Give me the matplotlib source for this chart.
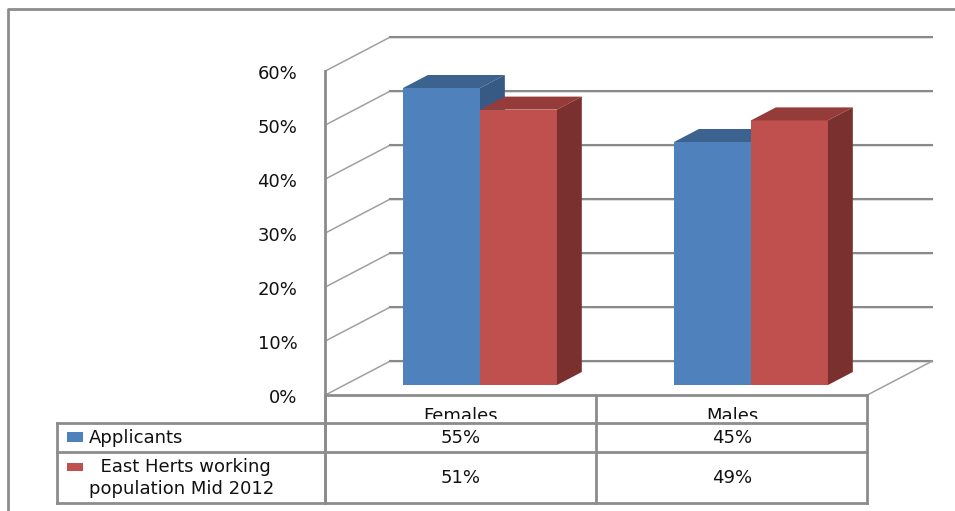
import matplotlib
matplotlib.use('Agg')
import matplotlib.pyplot as plt
from matplotlib.patches import Polygon, Rectangle

categories = ['Females', 'Males']
series_names = ['Applicants', '  East Herts working\npopulation Mid 2012']
applicants = [55, 45]
east_herts = [51, 49]
y_ticks = [0, 10, 20, 30, 40, 50, 60]

front_cols = ['#4F81BD', '#C0504D']
top_cols = ['#3C6290', '#953B39']
side_cols = ['#375A85', '#7A302F']
grid_col = '#8a8a8a'
line_col = '#8c8c8c'
txt_col = '#111111'
fs = 13

W, H = 955, 511
fig = plt.figure(figsize=(W / 100, H / 100), dpi=100)
ax = fig.add_axes([0, 0, 1, 1])

# data scale: one category = 271 px, 1% = 5.4 px, bar base at pixel (480, 385)
ux, uy = 271.0, 5.4
ax.set_xlim(-480 / ux, (W - 480) / ux)
ax.set_ylim(-(H - 385) / uy, 385 / uy)
ax.axis('off')

# depth of the 3d box, and where the bars sit inside it
DX, DY = 65 / ux, 34 / uy
zb, bd = 10 / 34, 13 / 34


def proj(x, y, z):
    return (x + (z - zb) * DX, y + (z - zb) * DY)


def pyd(p):
    # pixel row -> data y
    return (385 - p) / uy


def pxd(p):
    return (p - 480) / ux


# walls and gridlines
xl, xr = -0.5, len(categories) - 0.5
for t in y_ticks:
    a, b, c = proj(xl, t, 0), proj(xl, t, 1), proj(xr, t, 1)
    ax.plot([a[0], b[0]], [a[1], b[1]], color='#a0a0a0', lw=1.1, zorder=1)
    ax.plot([b[0], c[0]], [b[1] - 1.2 / uy, c[1] - 1.2 / uy], color='#dcdcdc', lw=1.2, zorder=1)
    ax.plot([b[0], c[0]], [b[1], c[1]], color=grid_col, lw=1.5, zorder=1)
    ax.text(a[0] - 28 / ux, a[1] - 3 / uy, f'{t}%', ha='right', va='center',
            fontsize=fs, color=txt_col)

f0, f1, f2 = proj(xl, 0, 0), proj(xr, 0, 0), proj(xr, 0, 1)
ax.plot([f1[0], f2[0]], [f1[1], f2[1]], color='#a0a0a0', lw=1.1, zorder=1)

# bars
width = 0.284
offsets = [-width / 2, width / 2]
for i, cat in enumerate(categories):
    for s, vals in enumerate([applicants, east_herts]):
        x0 = i + offsets[s] - width / 2
        x1 = x0 + width
        v = vals[i]
        ax.bar(x0, v, width=width, align='edge', color=front_cols[s], zorder=3 + s)
        top = [(x0, v), (x1, v), proj(x1, v, zb + bd), proj(x0, v, zb + bd)]
        side = [(x1, 0), (x1, v), proj(x1, v, zb + bd), proj(x1, 0, zb + bd)]
        ax.add_patch(Polygon(top, closed=True, color=top_cols[s], lw=0, zorder=3 + s))
        ax.add_patch(Polygon(side, closed=True, color=side_cols[s], lw=0, zorder=3 + s))

# floor front edge and front axis line
ax.plot([f0[0], f1[0]], [f0[1], f1[1]], color=line_col, lw=2, zorder=6)
top_front = proj(xl, y_ticks[-1], 0)
y_bottom = pyd(503)
ax.plot([top_front[0], top_front[0]], [top_front[1], y_bottom], color=line_col, lw=2, zorder=6)

# data table
col_edges = [proj(xl + k, 0, 0)[0] for k in range(len(categories) + 1)]
leg_left = pxd(57)
row_lines = [pyd(423), pyd(452), pyd(503)]
for yl in row_lines:
    ax.plot([leg_left, col_edges[-1]], [yl, yl], color=line_col, lw=2, zorder=6)
for xe in col_edges:
    ax.plot([xe, xe], [f0[1], y_bottom], color=line_col, lw=2, zorder=6)
ax.plot([leg_left, leg_left], [row_lines[0], y_bottom], color=line_col, lw=2, zorder=6)

# header labels are cut off at the bottom in the original
clip = Rectangle((ax.get_xlim()[0], pyd(419)), 10, 10, transform=ax.transData)
for i, cat in enumerate(categories):
    xc = (col_edges[i] + col_edges[i + 1]) / 2
    tx = ax.text(xc, pyd(416), cat, ha='center', va='center', fontsize=fs, color=txt_col,
                 clip_on=True)
    tx.set_clip_path(clip)
    ax.text(xc, pyd(438), f'{applicants[i]}%', ha='center', va='center', fontsize=fs, color=txt_col)
    ax.text(xc, pyd(478), f'{east_herts[i]}%', ha='center', va='center', fontsize=fs, color=txt_col)

for s, (name, yc, ys, hs) in enumerate(zip(series_names, [pyd(438), pyd(478)],
                                          [pyd(442), pyd(471)], [10, 8])):
    ax.add_patch(Rectangle((pxd(67), ys), 16 / ux, hs / uy, color=front_cols[s], lw=0, zorder=6))
    ax.text(pxd(89), yc, name, ha='left', va='center', fontsize=fs, color=txt_col,
            linespacing=1.25)

# outer chart border
ax.plot([pxd(8), pxd(8), pxd(W)], [pyd(H), pyd(9), pyd(9)], color=line_col, lw=2, zorder=6)

fig.savefig('out.png', dpi=100)
